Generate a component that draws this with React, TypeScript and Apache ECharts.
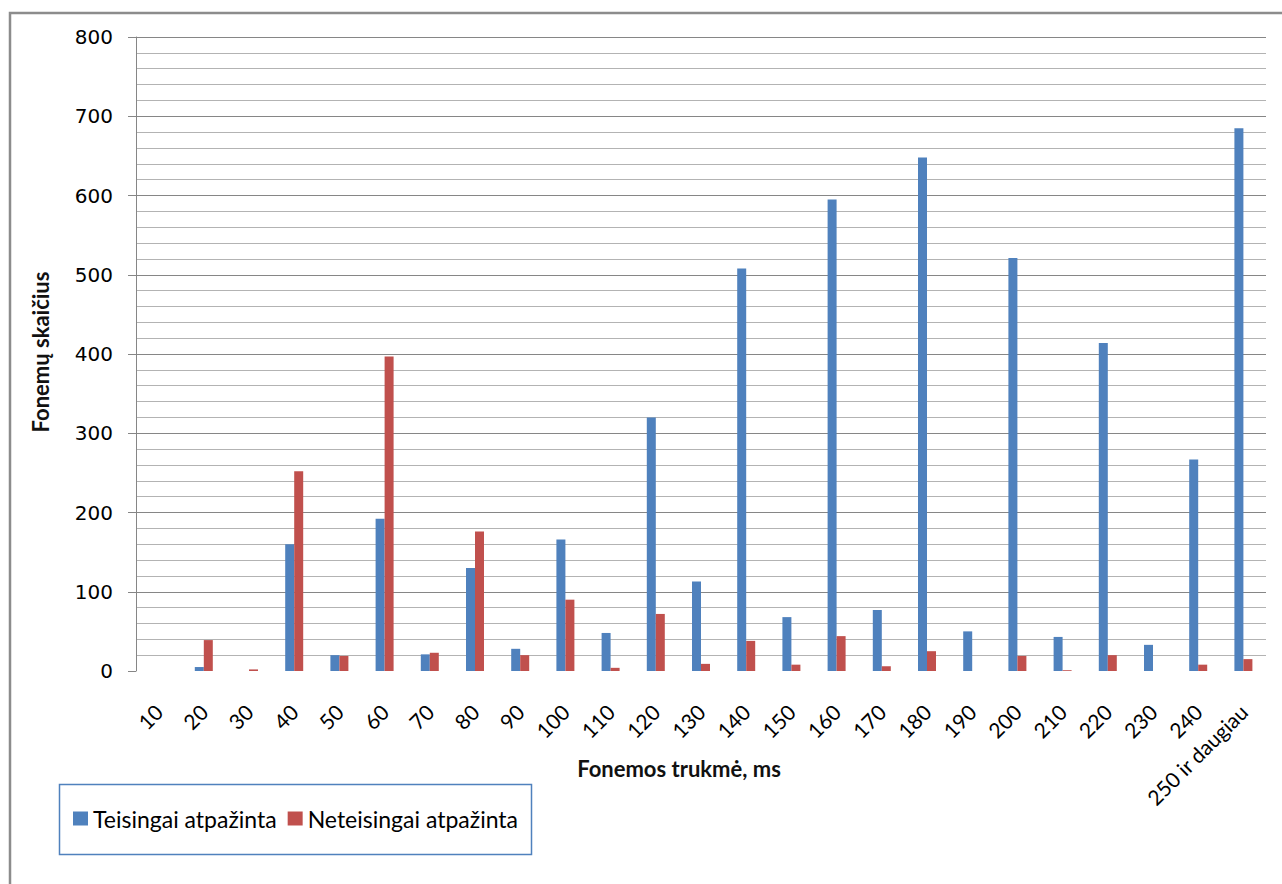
import React, { useEffect, useRef } from "react";
import * as echarts from "echarts";

// Phoneme duration bins (ms)
const categories: string[] = [
  "10", "20", "30", "40", "50", "60", "70", "80", "90", "100",
  "110", "120", "130", "140", "150", "160", "170", "180", "190", "200",
  "210", "220", "230", "240", "250 ir daugiau",
];

// Correctly recognised phonemes per bin
const teisingai: number[] = [
  0, 5, 0, 160, 20, 192, 21, 130, 28, 166,
  48, 320, 113, 508, 68, 595, 77, 648, 50, 521,
  43, 414, 33, 267, 685,
];

// Incorrectly recognised phonemes per bin
const neteisingai: number[] = [
  0, 39, 2, 252, 19, 397, 23, 176, 20, 90,
  4, 72, 9, 38, 8, 44, 6, 25, 0, 19,
  1, 20, 0, 8, 15,
];

const seriesNames: string[] = ["Teisingai atpažinta", "Neteisingai atpažinta"];
const yAxisTitle = "Fonemų skaičius";
const xAxisTitle = "Fonemos trukmė, ms";

const BLUE = "#4F81BD";
const RED = "#C0504D";

export default function App() {
  const ref = useRef<HTMLDivElement | null>(null);

  useEffect(() => {
    if (!ref.current) return;
    const chart = echarts.init(ref.current, undefined, { renderer: "svg" });
    chart.setOption({
      animation: false,
      backgroundColor: "#ffffff",
      grid: { left: 136, right: 16, top: 37, bottom: 213, containLabel: false },
      legend: {
        left: 68,
        top: 802,
        itemWidth: 15,
        itemHeight: 14,
        itemGap: 11,
        icon: "rect",
        textStyle: { fontFamily: "Lato", fontSize: 23, color: "#000" },
        data: seriesNames,
      },
      xAxis: {
        type: "category",
        data: categories,
        axisLine: { show: false },
        axisTick: { show: false },
        axisLabel: {
          rotate: 45,
          margin: 37,
          interval: 0,
          fontFamily: "Lato",
          fontSize: 21,
          color: "#000",
        },
      },
      yAxis: {
        type: "value",
        min: 0,
        max: 800,
        interval: 100,
        axisLine: { show: true, lineStyle: { color: "#868686", width: 1 } },
        axisTick: { show: true, inside: false, length: 8, lineStyle: { color: "#868686" } },
        axisLabel: {
          margin: 23,
          fontFamily: "DejaVu Sans",
          fontSize: 20,
          color: "#000",
        },
        splitLine: { show: true, showMinLine: false, lineStyle: { color: "#868686", width: 1 } },
        minorTick: { show: false, splitNumber: 5 },
        minorSplitLine: { show: true, lineStyle: { color: "#b3b3b3", width: 1 } },
      },
      series: [
        {
          name: seriesNames[0],
          type: "bar",
          data: teisingai,
          barWidth: 9,
          barGap: "0%",
          itemStyle: { color: BLUE },
        },
        {
          name: seriesNames[1],
          type: "bar",
          data: neteisingai,
          barWidth: 9,
          barGap: "0%",
          itemStyle: { color: RED },
        },
      ],
      graphic: [
        // outer chart frame (right and bottom edges run off the page)
        {
          type: "rect",
          shape: { x: 10, y: 13, width: 1300, height: 900 },
          style: { fill: "none", stroke: "#8c8c8c", lineWidth: 2.5 },
          silent: true,
        },
        // legend box
        {
          type: "rect",
          shape: { x: 59.5, y: 784.5, width: 472, height: 70 },
          style: { fill: "none", stroke: BLUE, lineWidth: 1.5 },
          silent: true,
        },
        {
          type: "text",
          x: 40,
          y: 352,
          rotation: Math.PI / 2,
          style: {
            text: yAxisTitle,
            fontFamily: "Lato",
            fontWeight: "bold",
            fontSize: 22,
            fill: "#111",
            align: "center",
            verticalAlign: "middle",
          },
        },
        {
          type: "text",
          x: 679,
          y: 768,
          style: {
            text: xAxisTitle,
            fontFamily: "Lato",
            fontWeight: "bold",
            fontSize: 22,
            fill: "#111",
            align: "center",
            verticalAlign: "middle",
          },
        },
      ],
    });
    return () => chart.dispose();
  }, []);

  return (
    <div
      ref={ref}
      style={{ position: "fixed", left: 0, top: 0, width: 1282, height: 884 }}
    />
  );
}
